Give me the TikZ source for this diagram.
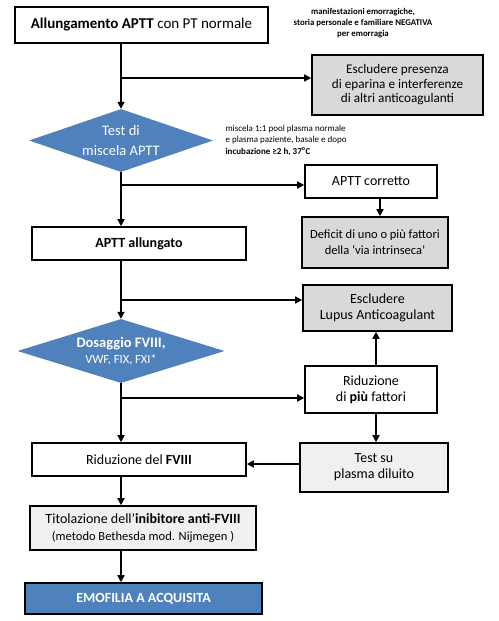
\documentclass[tikz,border=0pt]{standalone}
\usepackage{fontspec}
\setmainfont{Carlito}
\usetikzlibrary{shapes.geometric,arrows.meta}
\definecolor{flowblue}{HTML}{4F81BD}
\definecolor{boxgray}{HTML}{D9D9D9}
\definecolor{boxlight}{HTML}{F0F0F0}
\begin{document}
\begin{tikzpicture}[x=1pt,y=-1pt,
    box/.style={draw,line width=1.6pt,align=center,inner sep=0pt,font=\fontsize{14}{16}\selectfont},
    decision/.style={diamond,fill=flowblue,text=white,inner sep=0pt,aspect=2.9,align=center},
    note/.style={font=\fontsize{9}{11.5}\selectfont},
    flow/.style={line width=1.6pt,-{Triangle[length=7pt,width=7pt]}},
    trunk/.style={line width=1.6pt}]
  \useasboundingbox (0,0) rectangle (498,621);
  \draw
    (141.5,25) node[box,minimum width=253pt,minimum height=36pt,font=\fontsize{15}{17}\selectfont] (start){\textbf{Allungamento APTT} con PT normale}
    (363,23) node[note,align=center,font=\fontsize{8.8}{11}\selectfont] (clin){\textbf{manifestazioni emorragiche,}\\\textbf{storia personale e familiare NEGATIVA}\\\textbf{per emorragia}}
    (397.5,85) node[box,fill=boxgray,minimum width=171pt,minimum height=60pt,font=\fontsize{13.2}{14.5}\selectfont] (hep){Escludere presenza\\di eparina e interferenze\\di altri anticoagulanti}
    (121,140.5) node[decision,minimum width=184pt,minimum height=63pt,font=\fontsize{14.5}{20}\selectfont] (mix){Test di\\miscela APTT}
    (222,140) node[note,anchor=west,align=left] (mixnote){miscela 1:1 pool plasma normale\\e plasma paziente, basale e dopo\\\textbf{incubazione ≥2 h, 37\textsuperscript{o}C}}
    (371,181.5) node[box,minimum width=132pt,minimum height=33pt] (corr){APTT corretto}
    (375,242.5) node[box,fill=boxgray,minimum width=146pt,minimum height=51pt,font=\fontsize{12.5}{16}\selectfont] (intr){Deficit di uno o più fattori\\della ‘via intrinseca’}
    (139,243.5) node[box,minimum width=214pt,minimum height=33pt] (long){\textbf{APTT allungato}}
    (377.5,308) node[box,fill=boxgray,minimum width=149pt,minimum height=46pt] (lupus){Escludere\\Lupus Anticoagulant}
    (121,351) node[decision,minimum width=207pt,minimum height=64pt] (dos){{\fontsize{14.5}{16}\selectfont\textbf{Dosaggio FVIII,}}\\[4pt]{\fontsize{12.5}{17}\selectfont VWF, FIX, FXI*}}
    (371,389.5) node[box,minimum width=132pt,minimum height=47pt] (more){Riduzione\\di \textbf{più} fattori}
    (374,467.5) node[box,fill=boxlight,minimum width=148pt,minimum height=49pt] (dil){Test su\\plasma diluito}
    (139,459.5) node[box,minimum width=214pt,minimum height=33pt] (red){Riduzione del \textbf{FVIII}}
    (143,528) node[box,fill=boxlight,minimum width=226pt,minimum height=44pt] (tit){{\fontsize{14}{16}\selectfont Titolazione dell’\textbf{inibitore anti-FVIII}}\\[1pt]{\fontsize{12.5}{15}\selectfont(metodo Bethesda mod. Nijmegen )}}
    (143.5,598.5) node[box,fill=flowblue,text=white,minimum width=237pt,minimum height=31pt] (acq){\textbf{EMOFILIA A ACQUISITA}};
  \coordinate (b1) at (121,78);
  \coordinate (b2) at (121,185);
  \coordinate (b3) at (121,300);
  \coordinate (b4) at (121,398);
  \draw[flow] (mix |- start.south) to (mix.north);
  \draw[flow] (b1) to (hep.west |- b1);
  \draw[flow] (mix.south) to (mix |- long.north);
  \draw[flow] (b2) to (corr.west |- b2);
  \draw[flow] (corr.south -| 380,0) to (intr.north -| 380,0);
  \draw[flow] (mix |- long.south) to (dos.north);
  \draw[flow] (b3) to (lupus.west |- b3);
  \draw[flow] (dos.south) to (dos |- red.north);
  \draw[flow] (b4) to (more.west |- b4);
  \draw[flow] (more.north -| 376,0) to (lupus.south -| 376,0);
  \draw[flow] (more.south -| 376,0) to (dil.north -| 376,0);
  \draw[flow] (dil.west |- 0,464) to (red.east |- 0,464);
  \draw[flow] (mix |- red.south) to (mix |- tit.north);
  \draw[flow] (mix |- tit.south) to (mix |- acq.north);
\end{tikzpicture}
\end{document}
